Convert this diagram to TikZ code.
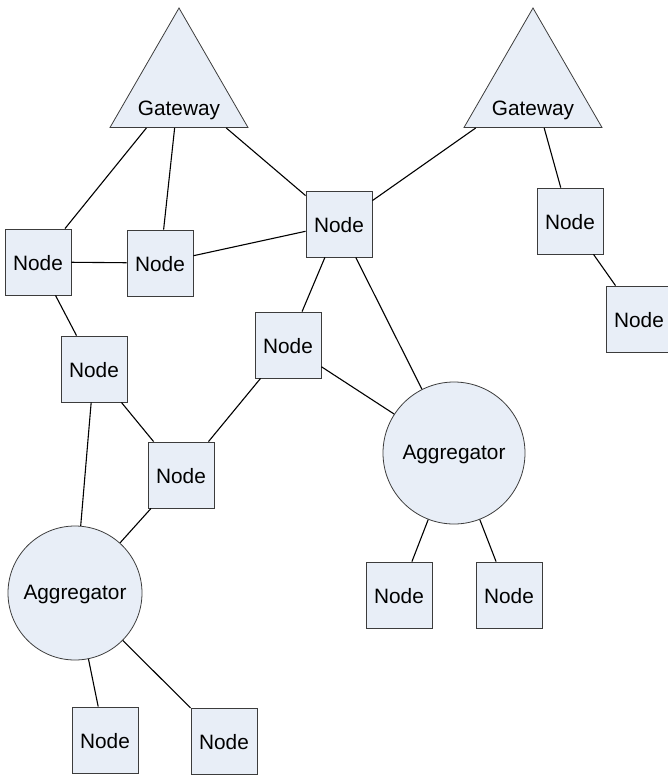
\documentclass[tikz,border=0pt]{standalone}
\usepackage{fontspec}
\setmainfont{Liberation Sans}
\usetikzlibrary{shapes.geometric,shadows}
\definecolor{paleblue}{RGB}{232,238,247}
\definecolor{edgegray}{RGB}{60,60,60}
\begin{document}
\begin{tikzpicture}[x=1pt,y=-1pt,
  font=\fontsize{20.8}{23}\selectfont,
  box/.style={rectangle,draw=edgegray,line width=0.8pt,fill=paleblue,
    minimum size=66pt,inner sep=0pt,
    drop shadow={shadow xshift=1.2pt,shadow yshift=-1.2pt,fill=black!55,opacity=1}},
  agg/.style={circle,draw=edgegray,line width=0.8pt,fill=paleblue,inner sep=0pt},
  gate/.style={regular polygon,regular polygon sides=3,draw=edgegray,
    line width=0.8pt,fill=paleblue,minimum size=159.4pt,inner sep=0pt},
  link/.style={line width=1.1pt,black}]
\useasboundingbox (0,0) rectangle (668,777);

% gateways (triangles) with their labels
\node[gate] (g1) at (179,87.7) {};
\node (g1t) at (179,110.5) {Gateway};
\node[gate] (g2) at (533,87.7) {};
\node (g2t) at (533,110.5) {Gateway};

% aggregators
\node[agg,minimum size=142pt] (a1) at (454,453) {};
\node (a1t) at (454,454) {Aggregator};
\node[agg,minimum size=134pt] (a2) at (75,593) {};
\node (a2t) at (75,594) {Aggregator};

% plain nodes
\node[box] (n1)  at (38,262)  {};
\node[box] (n2)  at (160,263) {};
\node[box] (n3)  at (339,224) {};
\node[box] (n4)  at (570,221) {};
\node[box] (n5)  at (639,319) {};
\node[box] (n6)  at (94,369)  {};
\node[box] (n7)  at (288,345) {};
\node[box] (n8)  at (181,475) {};
\node[box] (n9)  at (399,595) {};
\node[box] (n10) at (509,595) {};
\node[box] (n11) at (105,740) {};
\node[box] (n12) at (224,741) {};
\foreach \n in {n1,n2,n3,n4,n5,n6,n7,n8,n9,n10,n11,n12}
  \node at ([yshift=-1pt]\n.center) {Node};

% connections
\draw[link] (g1) -- (n1);
\draw[link] (g1) -- (n2);
\draw[link] (g1) -- (n3);
\draw[link] (g2) -- (n3);
\draw[link] (g2) -- (n4);
\draw[link] (n4) -- (n5);
\draw[link] (n1) -- (n2);
\draw[link] (n2) -- (n3);
\draw[link] (n1) -- (n6);
\draw[link] (n3) -- (n7);
\draw[link] (n3) -- (a1);
\draw[link] (n7) -- (a1);
\draw[link] (n7) -- (n8);
\draw[link] (n6) -- (n8);
\draw[link] (n6) -- (a2);
\draw[link] (n8) -- (a2);
\draw[link] (a1) -- (n9);
\draw[link] (a1) -- (n10);
\draw[link] (a2) -- (n11);
\draw[link] (a2) -- (n12);
\end{tikzpicture}
\end{document}
